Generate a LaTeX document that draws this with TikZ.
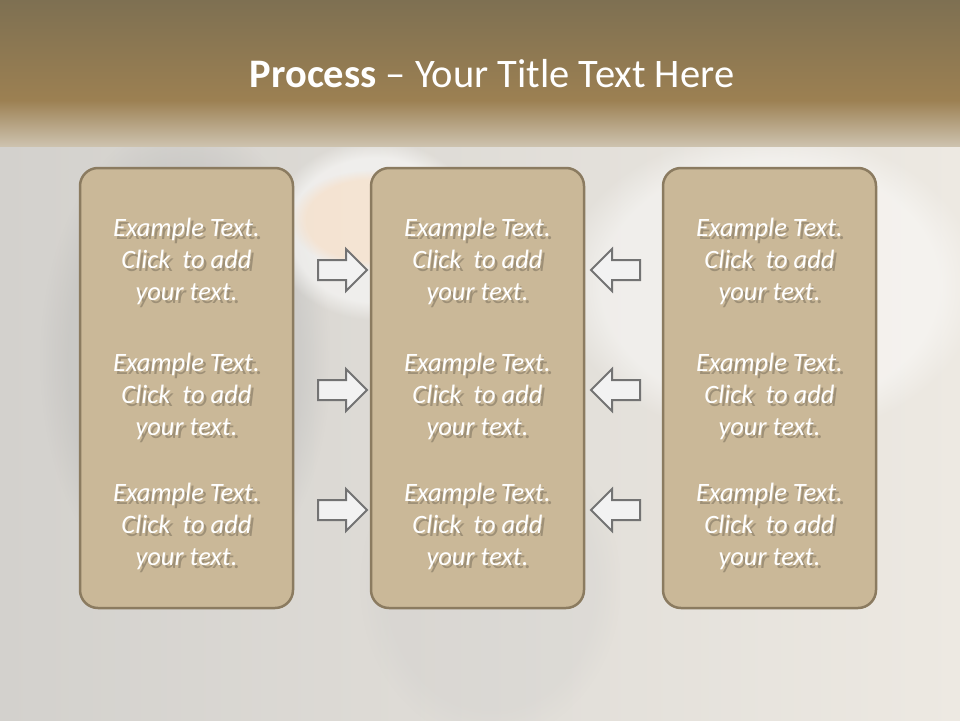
\documentclass[tikz,border=0pt]{standalone}
\usepackage{fontspec}
\setmainfont{Carlito}
\usetikzlibrary{shapes.arrows,fadings}
\definecolor{bandtop}{HTML}{7E7052}
\definecolor{bandmid}{HTML}{9C8052}
\definecolor{bandlow}{HTML}{CDC2AE}
\definecolor{bgleft}{HTML}{D3D1CD}
\definecolor{bgright}{HTML}{EDE9E2}
\definecolor{boxfill}{HTML}{CAB898}
\definecolor{boxedge}{HTML}{8B7B60}
\definecolor{arrowfill}{HTML}{F2F2F2}
\definecolor{arrowedge}{HTML}{737373}
\colorlet{shadowcol}{boxfill!78!black}
\tikzset{
  stepbox/.style={draw=boxedge, line width=2.5pt, fill=boxfill, rounded corners=18pt,
    minimum width=213pt, minimum height=440pt, inner sep=0pt},
  rarrow/.style={single arrow, draw=arrowedge, fill=arrowfill, line width=2pt,
    inner sep=9pt, single arrow head extend=11pt, minimum height=49pt, shape border rotate=0},
  larrow/.style={rarrow, shape border rotate=180},
  btext/.style={font=\fontsize{26.5}{32}\selectfont\itshape, align=center, inner sep=0pt, text=white}
}
\newcommand{\shline}[1]{%
  \makebox[0pt][l]{\hspace{2.8pt}\smash{\raisebox{-3.2pt}{\textcolor{shadowcol}{#1}}}}%
  #1}
\newcommand{\exampletext}{\shline{Example Text.}\\\shline{Click\ \ to add}\\\shline{your text.}}
\begin{document}
\begin{tikzpicture}[x=1pt,y=-1pt]
\useasboundingbox (0,0) rectangle (960,720);
% background photo approximation
\shade[left color=bgleft, right color=bgright] (0,0) rectangle (960,720);
\fill[gray!60, opacity=0.3, path fading=circle with fuzzy edge 20 percent] (40,120) rectangle (330,600);
\fill[white, opacity=0.55, path fading=circle with fuzzy edge 20 percent] (270,140) rectangle (480,320);
\fill[orange!35!white, opacity=0.35, path fading=circle with fuzzy edge 20 percent] (290,170) rectangle (450,270);
\fill[white, opacity=0.45, path fading=circle with fuzzy edge 20 percent] (560,130) rectangle (980,440);
\fill[gray!45, opacity=0.2, path fading=circle with fuzzy edge 20 percent] (360,430) rectangle (620,740);
% top band
\shade[top color=bandtop, bottom color=bandmid] (0,0) rectangle (960,100);
\shade[top color=bandmid, bottom color=bandlow] (0,100) rectangle (960,146);
% title
\node[text=white, font=\fontsize{40.5}{46}\selectfont, inner sep=0pt] (title) at (492,74)
  {\textbf{Process} – Your Title Text Here};
% boxes
\node[stepbox] (b1) at (186.5,388) {};
\node[stepbox] (b2) at (477.5,388) {};
\node[stepbox] (b3) at (769.5,388) {};
% texts
\foreach \b in {1,2,3}{
  \foreach \r/\yy in {a/261,b/396,c/526}{
    \node[btext] (t\b\r) at (b\b.center |- 0,\yy) {\exampletext};
  }
}
% arrows
\node[rarrow] (r1) at (337.5,270) {};
\node[rarrow] (r2) at (337.5,390) {};
\node[rarrow] (r3) at (337.5,510) {};
\node[larrow] (l1) at (620.5,270) {};
\node[larrow] (l2) at (620.5,390) {};
\node[larrow] (l3) at (620.5,510) {};
\end{tikzpicture}
\end{document}
